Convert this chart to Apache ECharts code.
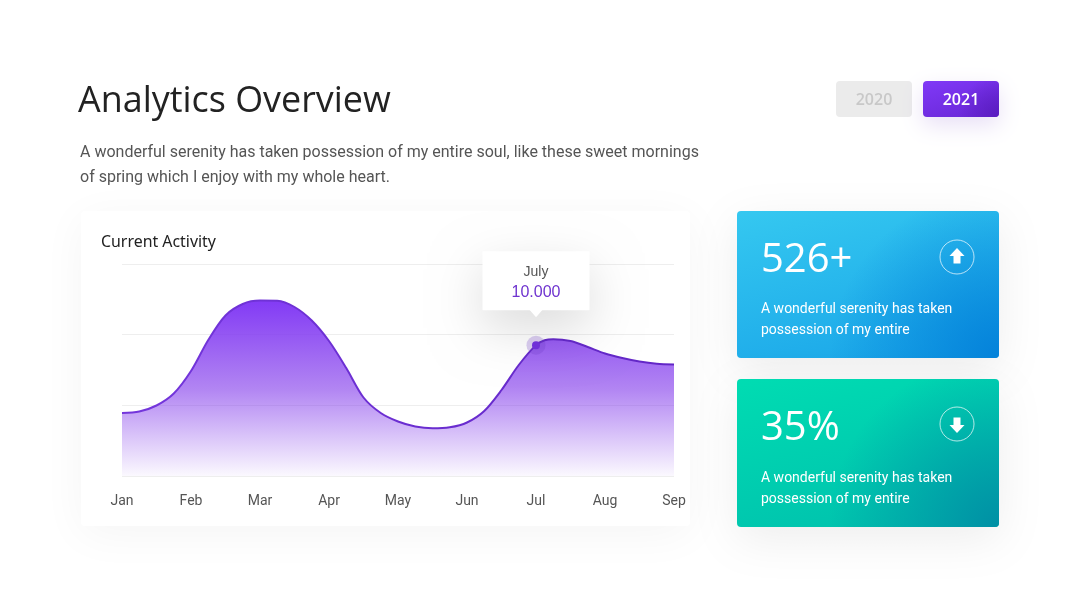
<!DOCTYPE html>
<html>
<head>
<meta charset="utf-8">
<style>html,body{margin:0;padding:0;background:#fff}#c{width:1080px;height:608px}</style>
<script src="https://cdn.jsdelivr.net/npm/echarts@6/dist/echarts.min.js"></script>
</head>
<body>
<div id="c"></div>
<script>
const months = ['Jan','Feb','Mar','Apr','May','Jun','Jul','Aug','Sep'];
const curveX = [0,0.25,0.5,0.75,1,1.25,1.5,1.75,2,2.25,2.5,2.75,3,3.25,3.5,3.75,4,4.25,4.5,4.75,5,5.25,5.5,5.75,6,6.125,6.25,6.5,6.75,7,7.25,7.5,7.75,8];
const curveY = [4814,4929,5387,6304,8024,10392,12265,13143,13403,13388,12914,11883,10316,8253,5999,4814,4165,3783,3645,3721,4088,4967,6572,8482,10000,10370,10454,10316,9858,9361,9017,8750,8581,8520];
const highlightMonth = 6;
const highlightValue = 10000;
const yMax = 16200;
const yStep = 5400;
const title = 'Analytics Overview';
const intro = ['A wonderful serenity has taken possession of my entire soul, like these sweet mornings','of spring which I enjoy with my whole heart.'];
const cardText = ['A wonderful serenity has taken','possession of my entire'];
const tipTitle = 'July';
const tipValue = '10.000';

const lin = (a, b) => ({type:'linear',x:0,y:0,x2:0.18,y2:1.35,colorStops:[{offset:0,color:a},{offset:1,color:b}]});
const rad = (c, c0) => ({type:'radial',x:1,y:1,r:1.15,colorStops:[{offset:0,color:c},{offset:1,color:c0}]});
const txt = (x, y, text, font, fill, extra) => ({type:'text',x,y,z:5,style:Object.assign({text,font,fill,verticalAlign:'middle'},extra||{})});
const box = (x, y, w, h, r, fill, sh) => ({type:'rect',x,y,z:-1,shape:{x:0,y:0,width:w,height:h,r},style:Object.assign({fill},sh||{})});
const arrow = (cx, cy, dir) => ({type:'polygon',z:5,x:cx,y:cy,scaleY:dir,shape:{points:[[0,-8],[7.5,0],[3.5,0],[3.5,7.5],[-3.5,7.5],[-3.5,0],[-7.5,0]]},style:{fill:'#fff'}});
const ring = (cx, cy) => ({type:'circle',z:5,shape:{cx,cy,r:17},style:{fill:'none',stroke:'rgba(255,255,255,.7)',lineWidth:1}});

const bodyF = '14px Roboto';
const numF = '40px "Open Sans"';
const chart = echarts.init(document.getElementById('c'), null, {renderer:'canvas'});
chart.setOption({
  animation:false,
  backgroundColor:'#fff',
  grid:{left:122,right:406,top:264,bottom:132},
  xAxis:{type:'value',min:0,max:8,interval:1,z:3,
    axisLine:{show:false},axisTick:{show:false},splitLine:{show:false},
    axisLabel:{formatter:v=>months[v],margin:18,fontFamily:'Roboto',fontSize:14,color:'#555'}},
  yAxis:{type:'value',min:0,max:yMax,interval:yStep,z:1,
    axisLine:{show:false},axisTick:{show:false},axisLabel:{show:false},
    splitLine:{lineStyle:{color:'#eeeeee',width:1}}},
  series:[{
    type:'line',smooth:0.3,showSymbol:false,symbol:'none',z:3,
    data:curveX.map((x,i)=>[x,curveY[i]]),
    lineStyle:{width:2,color:{type:'linear',x:0,y:0,x2:1,y2:0,colorStops:[{offset:0,color:'#7436dc'},{offset:1,color:'#6226c6'}]}},
    areaStyle:{color:{type:'linear',global:true,x:0,y:300,x2:0,y2:478,colorStops:[
      {offset:0,color:'rgba(130,58,245,1)'},
      {offset:0.5,color:'rgba(130,58,235,0.62)'},
      {offset:1,color:'rgba(130,58,235,0.02)'}]},opacity:1},
    emphasis:{disabled:true},
    markPoint:{silent:true,animation:false,symbol:'circle',label:{show:false},data:[
      {coord:[highlightMonth,highlightValue],symbolSize:19,itemStyle:{color:'rgba(110,60,200,.25)'}},
      {coord:[highlightMonth,highlightValue],symbolSize:8,itemStyle:{color:'#7431e0'}},
      {coord:[highlightMonth,highlightValue],symbolSize:1,itemStyle:{color:'transparent'},
        label:{show:true,position:'top',distance:34.5,width:107,height:48,padding:[11,0,0,0],align:'center',
          backgroundColor:'#fff',shadowBlur:50,shadowOffsetY:18,shadowColor:'rgba(0,0,0,.14)',
          formatter:'{a|'+tipTitle+'}\n{b|'+tipValue+'}',
          rich:{a:{fontFamily:'Liberation Sans',fontSize:14,height:20,lineHeight:20,color:'#555',align:'center'},
                b:{fontFamily:'Liberation Sans',fontSize:16,height:20,lineHeight:20,color:'#6f34cf',align:'center'}}}}
    ]}
  },{
    type:'scatter',z:6,silent:true,symbol:'triangle',symbolRotate:180,symbolSize:[14,8],symbolOffset:[0,-32],
    data:[[highlightMonth,highlightValue]],itemStyle:{color:'#fff',opacity:1},emphasis:{disabled:true}
  }],
  graphic:{elements:[
    box(81,211,609,315,4,'#fff',{shadowBlur:45,shadowColor:'rgba(0,0,0,.045)',shadowOffsetY:8}),
    txt(78,102,title,'500 35.9px "Open Sans"','#222'),
    txt(80,153,intro[0],'16px Roboto','#555'),
    txt(80,178,intro[1],'16px Roboto','#555'),
    txt(101,242,'Current Activity','15.9px "Noto Sans"','#222'),
    box(836,81,76,36,4,'#ebebeb'),
    txt(874,100,'2020','600 16px "Open Sans"','#c8c8c8',{align:'center'}),
    box(923,81,76,36,4,lin('#8039f7','#6a28d8'),{shadowBlur:22,shadowColor:'rgba(90,30,190,.14)',shadowOffsetY:8}),
    box(923,81,76,36,4,rad('#5a1cc0','rgba(90,28,192,0)')),
    txt(961,100,'2021','600 16px "Open Sans"','#fff',{align:'center'}),
    box(737,211,262,147,4,lin('#35c8f0','#18a4e8'),{shadowBlur:45,shadowColor:'rgba(0,0,0,.07)',shadowOffsetY:12}),
    box(737,211,262,147,4,rad('#0482da','rgba(4,130,218,0)')),
    txt(761,261,'526+',numF,'#fff'),
    ring(957,257),arrow(957,256,1),
    txt(761,309.5,cardText[0],bodyF,'#fff'),
    txt(761,330.5,cardText[1],bodyF,'#fff'),
    box(737,379,262,148,4,lin('#00dcb2','#00bfad'),{shadowBlur:45,shadowColor:'rgba(0,0,0,.07)',shadowOffsetY:12}),
    box(737,379,262,148,4,rad('#0090a5','rgba(0,144,165,0)')),
    txt(761,429,'35%',numF,'#fff'),
    ring(957,424),arrow(957,425,-1),
    txt(761,478.5,cardText[0],bodyF,'#fff'),
    txt(761,499.5,cardText[1],bodyF,'#fff')
  ]}
});
</script>
</body>
</html>
